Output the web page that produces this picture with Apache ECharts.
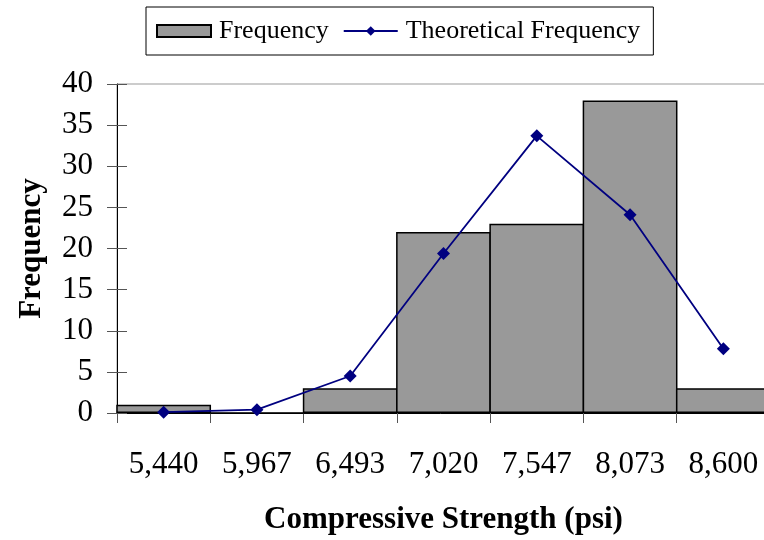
<!DOCTYPE html>
<html>
<head>
<meta charset="utf-8">
<script src="https://cdn.jsdelivr.net/npm/echarts@6/dist/echarts.min.js"></script>
<style>html,body{margin:0;padding:0;background:#fff;}#c{width:764px;height:540px;}</style>
</head>
<body>
<div id="c"></div>
<script>
var categories = ['5,440', '5,967', '6,493', '7,020', '7,547', '8,073', '8,600'];
var frequency = [1, 0, 3, 22, 23, 38, 3];
var theoretical = [0.1, 0.4, 4.5, 19.4, 33.7, 24.1, 7.8];
var yTicks = {min: 0, max: 40, interval: 5};

var FONT = "'Liberation Serif', 'Times New Roman', serif";
var chart = echarts.init(document.getElementById('c'), null, {renderer: 'canvas'});
chart.setOption({
  animation: false,
  backgroundColor: '#ffffff',
  textStyle: {fontFamily: FONT},
  legend: {
    left: 146, top: 7,
    padding: [11, 13, 11, 10],
    borderColor: '#000', borderWidth: 1,
    itemWidth: 54, itemHeight: 12, itemGap: 14,
    textStyle: {fontFamily: FONT, fontSize: 26, color: '#000', padding: [0, 0, 0, 3]},
    data: [
      {name: 'Frequency', icon: 'rect', itemStyle: {color: '#999999', borderColor: '#000', borderWidth: 2}},
      {name: 'Theoretical Frequency'}
    ]
  },
  grid: {left: 117, top: 84, right: -6, bottom: 127, outerBoundsMode: 'none', show: true, borderColor: '#999', borderWidth: 1, containLabel: false},
  xAxis: {
    type: 'category',
    data: categories,
    boundaryGap: true,
    name: 'Compressive Strength (psi)',
    nameLocation: 'middle', nameGap: 91,
    nameTextStyle: {fontFamily: FONT, fontSize: 31, fontWeight: 'bold', color: '#000'},
    axisLine: {lineStyle: {color: '#000', width: 1}},
    axisTick: {show: true, length: 10, lineStyle: {color: '#555'}},
    axisLabel: {fontFamily: FONT, fontSize: 31, color: '#000', margin: 36},
    splitLine: {show: false}
  },
  yAxis: [{
    type: 'value',
    min: yTicks.min, max: yTicks.max, interval: yTicks.interval,
    name: 'Frequency',
    nameLocation: 'middle', nameGap: 70,
    nameTextStyle: {fontFamily: FONT, fontSize: 31, fontWeight: 'bold', color: '#000'},
    axisLine: {show: true, lineStyle: {color: '#000', width: 1}},
    axisTick: {show: true, length: 10, lineStyle: {color: '#555'}},
    axisLabel: {fontFamily: FONT, fontSize: 31, color: '#000', margin: 24},
    splitLine: {show: false}
  }, {
    type: 'value', position: 'left',
    min: yTicks.min, max: yTicks.max, interval: yTicks.interval,
    axisLine: {show: false},
    axisTick: {show: true, inside: true, length: 10, lineStyle: {color: '#555'}},
    axisLabel: {show: false},
    splitLine: {show: false}
  }],
  series: [{
    name: 'Frequency',
    type: 'bar',
    data: frequency,
    barWidth: 94.8,
    barGap: '0%',
    itemStyle: {color: '#999999', borderColor: '#000', borderWidth: 1.5},
    z: 2
  }, {
    name: 'Theoretical Frequency',
    type: 'line',
    data: theoretical,
    symbol: 'diamond',
    symbolSize: 13,
    lineStyle: {color: '#000080', width: 1.8},
    itemStyle: {color: '#000080'},
    z: 3
  }]
});
</script>
</body>
</html>
